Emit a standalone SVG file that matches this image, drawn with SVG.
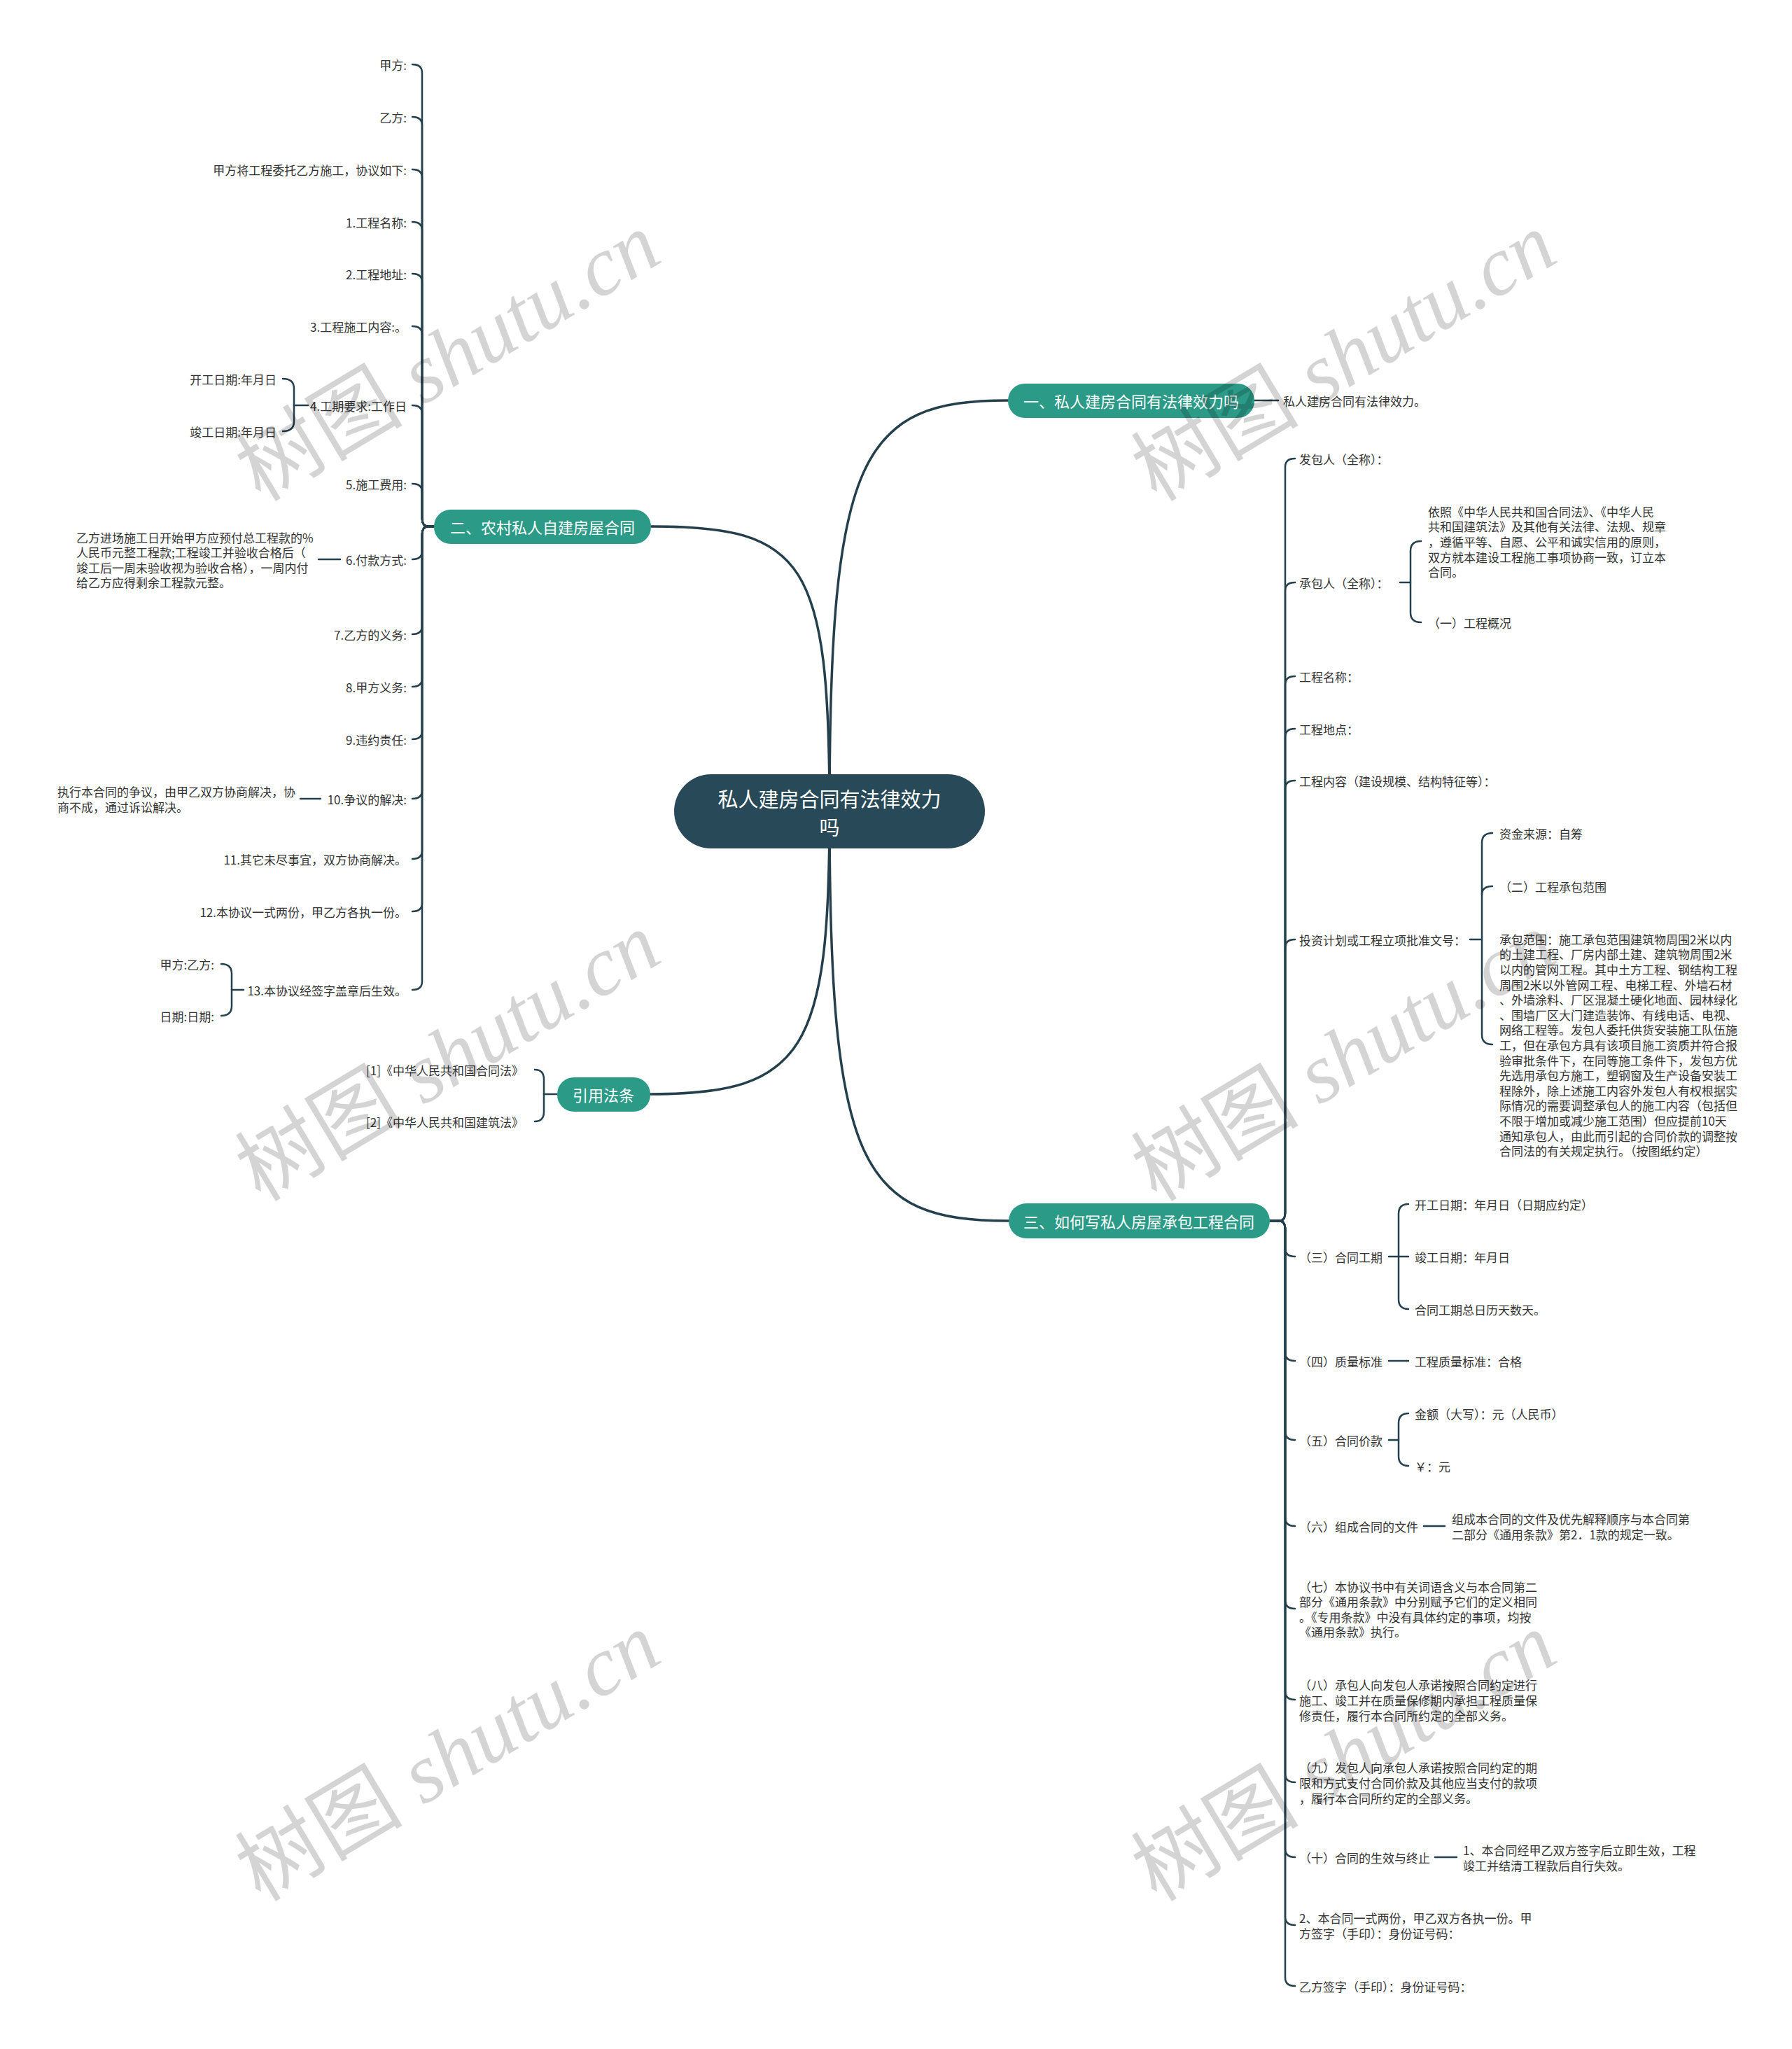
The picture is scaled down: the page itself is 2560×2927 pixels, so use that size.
<svg xmlns="http://www.w3.org/2000/svg" width="2560" height="2927" viewBox="0 0 2560 2927">
<style>
.ln{fill:none;stroke:#25404d;stroke-width:2.5;stroke-linecap:round;stroke-linejoin:round}
.rl{stroke-width:3.5}
.t{font-family:"Noto Sans CJK SC","Microsoft YaHei",sans-serif;font-size:17px;fill:#333;dominant-baseline:central}
.e{text-anchor:end}
.b{font-size:22px;fill:#fff;text-anchor:middle}
.r{font-size:29px;fill:#fff;text-anchor:middle}
.bx{fill:#2b9a87}
.rt{fill:#284957}
.wm{font-family:"Liberation Serif","Noto Sans CJK SC",serif;font-size:120px;fill:#000;fill-opacity:0.17;text-anchor:middle;dominant-baseline:central}
</style>
<rect width="2560" height="2927" fill="#fff"/>
<g id="connectors">
<path class="ln rl" d="M1185 1159C1185 650 1230 572 1440 572"/>
<path class="ln rl" d="M1185 1159C1185 1668 1230 1744 1441 1744"/>
<path class="ln rl" d="M1185 1159C1185 800 1150 752 930 752"/>
<path class="ln rl" d="M1185 1159C1185 1500 1150 1563 929 1563"/>
<path class="ln" d="M1792 572H1826"/>
<path class="ln" d="M620 752H612Q603 752 603 740V104Q603 92 589 92"/>
<path class="ln" d="M620 752H612Q603 752 603 740V179Q603 167 589 167"/>
<path class="ln" d="M620 752H612Q603 752 603 740V254Q603 242 589 242"/>
<path class="ln" d="M620 752H612Q603 752 603 740V329Q603 317 589 317"/>
<path class="ln" d="M620 752H612Q603 752 603 740V403Q603 391 589 391"/>
<path class="ln" d="M620 752H612Q603 752 603 740V478Q603 466 589 466"/>
<path class="ln" d="M620 752H612Q603 752 603 740V591Q603 579 589 579"/>
<path class="ln" d="M620 752H612Q603 752 603 740V703Q603 691 589 691"/>
<path class="ln" d="M620 752H612Q603 752 603 764V787Q603 799 589 799"/>
<path class="ln" d="M620 752H612Q603 752 603 764V894Q603 906 589 906"/>
<path class="ln" d="M620 752H612Q603 752 603 764V969Q603 981 589 981"/>
<path class="ln" d="M620 752H612Q603 752 603 764V1044Q603 1056 589 1056"/>
<path class="ln" d="M620 752H612Q603 752 603 764V1129Q603 1141 589 1141"/>
<path class="ln" d="M620 752H612Q603 752 603 764V1215Q603 1227 589 1227"/>
<path class="ln" d="M620 752H612Q603 752 603 764V1290Q603 1302 589 1302"/>
<path class="ln" d="M620 752H612Q603 752 603 764V1402Q603 1414 589 1414"/>
<path class="ln" d="M440 579H420"/>
<path class="ln" d="M404 541Q420 541 420 555V602Q420 616 404 616"/>
<path class="ln" d="M455 799H486"/>
<path class="ln" d="M429 1141H458"/>
<path class="ln" d="M348 1414H331"/>
<path class="ln" d="M316 1377Q331 1377 331 1391V1437Q331 1451 316 1451"/>
<path class="ln" d="M796 1563H777"/>
<path class="ln" d="M764 1528Q777 1528 777 1542V1588Q777 1602 764 1602"/>
<path class="ln" d="M1814 1744H1827Q1836 1744 1836 1732V667Q1836 655 1850 655"/>
<path class="ln" d="M1814 1744H1827Q1836 1744 1836 1732V844Q1836 832 1850 832"/>
<path class="ln" d="M1814 1744H1827Q1836 1744 1836 1732V978Q1836 966 1850 966"/>
<path class="ln" d="M1814 1744H1827Q1836 1744 1836 1732V1053Q1836 1041 1850 1041"/>
<path class="ln" d="M1814 1744H1827Q1836 1744 1836 1732V1127Q1836 1115 1850 1115"/>
<path class="ln" d="M1814 1744H1827Q1836 1744 1836 1732V1354Q1836 1342 1850 1342"/>
<path class="ln" d="M1814 1744H1827Q1836 1744 1836 1756V1783Q1836 1795 1850 1795"/>
<path class="ln" d="M1814 1744H1827Q1836 1744 1836 1756V1932Q1836 1944 1850 1944"/>
<path class="ln" d="M1814 1744H1827Q1836 1744 1836 1756V2045Q1836 2057 1850 2057"/>
<path class="ln" d="M1814 1744H1827Q1836 1744 1836 1756V2168Q1836 2180 1850 2180"/>
<path class="ln" d="M1814 1744H1827Q1836 1744 1836 1756V2286Q1836 2298 1850 2298"/>
<path class="ln" d="M1814 1744H1827Q1836 1744 1836 1756V2416Q1836 2428 1850 2428"/>
<path class="ln" d="M1814 1744H1827Q1836 1744 1836 1756V2534Q1836 2546 1850 2546"/>
<path class="ln" d="M1814 1744H1827Q1836 1744 1836 1756V2641Q1836 2653 1850 2653"/>
<path class="ln" d="M1814 1744H1827Q1836 1744 1836 1756V2738Q1836 2750 1850 2750"/>
<path class="ln" d="M1814 1744H1827Q1836 1744 1836 1756V2825Q1836 2837 1850 2837"/>
<path class="ln" d="M2000 832H2015"/>
<path class="ln" d="M2030 773Q2015 773 2015 787V875Q2015 889 2030 889"/>
<path class="ln" d="M2100 1342H2117"/>
<path class="ln" d="M2132 1190Q2117 1190 2117 1204V1478Q2117 1492 2132 1492"/>
<path class="ln" d="M2117 1278Q2117 1266 2132 1266"/>
<path class="ln" d="M1984 1795H2012"/>
<path class="ln" d="M2012 1720Q1998 1720 1998 1734V1856Q1998 1870 2012 1870"/>
<path class="ln" d="M1984 1944H2012"/>
<path class="ln" d="M1984 2057H1998"/>
<path class="ln" d="M2012 2019Q1998 2019 1998 2033V2080Q1998 2094 2012 2094"/>
<path class="ln" d="M2034 2180H2064"/>
<path class="ln" d="M2050 2653H2081"/>
</g>
<g id="root"><rect class="rt" x="963" y="1106" width="444" height="106" rx="53"/><text class="t r"><tspan x="1185" y="1140">私人建房合同有法律效力</tspan><tspan x="1185" y="1180">吗</tspan></text></g>
<g id="b1"><rect class="bx" x="1440" y="548" width="352" height="49" rx="24"/><text class="t b" x="1616" y="572">一、私人建房合同有法律效力吗</text></g>
<g id="b2"><rect class="bx" x="620" y="728" width="310" height="49" rx="24"/><text class="t b" x="775" y="752">二、农村私人自建房屋合同</text></g>
<g id="b4"><rect class="bx" x="796" y="1539" width="133" height="49" rx="24"/><text class="t b" x="862" y="1563">引用法条</text></g>
<g id="b3"><rect class="bx" x="1441" y="1719" width="373" height="50" rx="25"/><text class="t b" x="1627" y="1744">三、如何写私人房屋承包工程合同</text></g>
<g id="n1-1"><text class="t" x="1833" y="572">私人建房合同有法律效力。</text></g>
<g id="left-leaves">
<g id="l1"><text class="t e" x="581" y="92">甲方:</text></g>
<g id="l2"><text class="t e" x="581" y="167">乙方:</text></g>
<g id="l3"><text class="t e" x="581" y="242">甲方将工程委托乙方施工，协议如下:</text></g>
<g id="l4"><text class="t e" x="581" y="317">1.工程名称:</text></g>
<g id="l5"><text class="t e" x="581" y="391">2.工程地址:</text></g>
<g id="l6"><text class="t e" x="581" y="466">3.工程施工内容:。</text></g>
<g id="l7"><text class="t e" x="581" y="579">4.工期要求:工作日</text></g>
<g id="l7a"><text class="t e" x="395" y="541">开工日期:年月日</text></g>
<g id="l7b"><text class="t e" x="395" y="616">竣工日期:年月日</text></g>
<g id="l8"><text class="t e" x="581" y="691">5.施工费用:</text></g>
<g id="l9"><text class="t e" x="581" y="799">6.付款方式:</text></g>
<g id="l9a"><text class="t"><tspan x="109" y="766.6">乙方进场施工日开始甲方应预付总工程款的%</tspan><tspan x="109" y="788.2">人民币元整工程款;工程竣工并验收合格后（</tspan><tspan x="109" y="809.8">竣工后一周未验收视为验收合格），一周内付</tspan><tspan x="109" y="831.4">给乙方应得剩余工程款元整。</tspan></text></g>
<g id="l10"><text class="t e" x="581" y="906">7.乙方的义务:</text></g>
<g id="l11"><text class="t e" x="581" y="981">8.甲方义务:</text></g>
<g id="l12"><text class="t e" x="581" y="1056">9.违约责任:</text></g>
<g id="l13"><text class="t e" x="581" y="1141">10.争议的解决:</text></g>
<g id="l13a"><text class="t"><tspan x="82" y="1130.2">执行本合同的争议，由甲乙双方协商解决，协</tspan><tspan x="82" y="1151.8">商不成，通过诉讼解决。</tspan></text></g>
<g id="l14"><text class="t e" x="581" y="1227">11.其它未尽事宜，双方协商解决。</text></g>
<g id="l15"><text class="t e" x="581" y="1302">12.本协议一式两份，甲乙方各执一份。</text></g>
<g id="l16"><text class="t e" x="581" y="1414">13.本协议经签字盖章后生效。</text></g>
<g id="l16a"><text class="t e" x="306" y="1377">甲方:乙方:</text></g>
<g id="l16b"><text class="t e" x="306" y="1451">日期:日期:</text></g>
<g id="c1"><text class="t e" x="748" y="1528">[1]《中华人民共和国合同法》</text></g>
<g id="c2"><text class="t e" x="748" y="1602">[2]《中华人民共和国建筑法》</text></g>
</g>
<g id="right-leaves">
<g id="r1"><text class="t" x="1856" y="655">发包人（全称）：</text></g>
<g id="r2"><text class="t" x="1856" y="832">承包人（全称）：</text></g>
<g id="r2a"><text class="t"><tspan x="2040" y="729.8">依照《中华人民共和国合同法》、《中华人民</tspan><tspan x="2040" y="751.4">共和国建筑法》及其他有关法律、法规、规章</tspan><tspan x="2040" y="773">，遵循平等、自愿、公平和诚实信用的原则，</tspan><tspan x="2040" y="794.6">双方就本建设工程施工事项协商一致，订立本</tspan><tspan x="2040" y="816.2">合同。</tspan></text></g>
<g id="r2b"><text class="t" x="2040" y="889">（一）工程概况</text></g>
<g id="r3"><text class="t" x="1856" y="966">工程名称：</text></g>
<g id="r4"><text class="t" x="1856" y="1041">工程地点：</text></g>
<g id="r5"><text class="t" x="1856" y="1115">工程内容（建设规模、结构特征等）：</text></g>
<g id="r6"><text class="t" x="1856" y="1342">投资计划或工程立项批准文号：</text></g>
<g id="r6a"><text class="t" x="2142" y="1190">资金来源：自筹</text></g>
<g id="r6b"><text class="t" x="2142" y="1266">（二）工程承包范围</text></g>
<g id="r6c"><text class="t"><tspan x="2142" y="1340.8">承包范围：施工承包范围建筑物周围2米以内</tspan><tspan x="2142" y="1362.4">的土建工程、厂房内部土建、建筑物周围2米</tspan><tspan x="2142" y="1384">以内的管网工程。其中土方工程、钢结构工程</tspan><tspan x="2142" y="1405.6">周围2米以外管网工程、电梯工程、外墙石材</tspan><tspan x="2142" y="1427.2">、外墙涂料、厂区混凝土硬化地面、园林绿化</tspan><tspan x="2142" y="1448.8">、围墙厂区大门建造装饰、有线电话、电视、</tspan><tspan x="2142" y="1470.4">网络工程等。发包人委托供货安装施工队伍施</tspan><tspan x="2142" y="1492">工，但在承包方具有该项目施工资质并符合报</tspan><tspan x="2142" y="1513.6">验审批条件下，在同等施工条件下，发包方优</tspan><tspan x="2142" y="1535.2">先选用承包方施工，塑钢窗及生产设备安装工</tspan><tspan x="2142" y="1556.8">程除外，除上述施工内容外发包人有权根据实</tspan><tspan x="2142" y="1578.4">际情况的需要调整承包人的施工内容（包括但</tspan><tspan x="2142" y="1600">不限于增加或减少施工范围）但应提前10天</tspan><tspan x="2142" y="1621.6">通知承包人，由此而引起的合同价款的调整按</tspan><tspan x="2142" y="1643.2">合同法的有关规定执行。（按图纸约定）</tspan></text></g>
<g id="r7"><text class="t" x="1856" y="1795">（三）合同工期</text></g>
<g id="r7a"><text class="t" x="2021" y="1720">开工日期：年月日（日期应约定）</text></g>
<g id="r7b"><text class="t" x="2021" y="1795">竣工日期：年月日</text></g>
<g id="r7c"><text class="t" x="2021" y="1870">合同工期总日历天数天。</text></g>
<g id="r8"><text class="t" x="1856" y="1944">（四）质量标准</text></g>
<g id="r8a"><text class="t" x="2021" y="1944">工程质量标准：合格</text></g>
<g id="r9"><text class="t" x="1856" y="2057">（五）合同价款</text></g>
<g id="r9a"><text class="t" x="2021" y="2019">金额（大写）：元（人民币）</text></g>
<g id="r9b"><text class="t" x="2021" y="2094">￥：元</text></g>
<g id="r10"><text class="t" x="1856" y="2180">（六）组成合同的文件</text></g>
<g id="r10a"><text class="t"><tspan x="2074" y="2169.2">组成本合同的文件及优先解释顺序与本合同第</tspan><tspan x="2074" y="2190.8">二部分《通用条款》第2．1款的规定一致。</tspan></text></g>
<g id="r11"><text class="t"><tspan x="1856" y="2265.6">（七）本协议书中有关词语含义与本合同第二</tspan><tspan x="1856" y="2287.2">部分《通用条款》中分别赋予它们的定义相同</tspan><tspan x="1856" y="2308.8">。《专用条款》中没有具体约定的事项，均按</tspan><tspan x="1856" y="2330.4">《通用条款》执行。</tspan></text></g>
<g id="r12"><text class="t"><tspan x="1856" y="2406.4">（八）承包人向发包人承诺按照合同约定进行</tspan><tspan x="1856" y="2428">施工、竣工并在质量保修期内承担工程质量保</tspan><tspan x="1856" y="2449.6">修责任，履行本合同所约定的全部义务。</tspan></text></g>
<g id="r13"><text class="t"><tspan x="1856" y="2524.4">（九）发包人向承包人承诺按照合同约定的期</tspan><tspan x="1856" y="2546">限和方式支付合同价款及其他应当支付的款项</tspan><tspan x="1856" y="2567.6">，履行本合同所约定的全部义务。</tspan></text></g>
<g id="r14"><text class="t" x="1856" y="2653">（十）合同的生效与终止</text></g>
<g id="r14a"><text class="t"><tspan x="2090" y="2642.2">1、本合同经甲乙双方签字后立即生效，工程</tspan><tspan x="2090" y="2663.8">竣工并结清工程款后自行失效。</tspan></text></g>
<g id="r15"><text class="t"><tspan x="1856" y="2739.2">2、本合同一式两份，甲乙双方各执一份。甲</tspan><tspan x="1856" y="2760.8">方签字（手印）：身份证号码：</tspan></text></g>
<g id="r16"><text class="t" x="1856" y="2837">乙方签字（手印）：身份证号码：</text></g>
</g>
<g id="watermarks">
<text class="wm" transform="translate(640 510) rotate(-31)">树图 <tspan font-style="italic">shutu.cn</tspan></text>
<text class="wm" transform="translate(640 1510) rotate(-31)">树图 <tspan font-style="italic">shutu.cn</tspan></text>
<text class="wm" transform="translate(640 2510) rotate(-31)">树图 <tspan font-style="italic">shutu.cn</tspan></text>
<text class="wm" transform="translate(1920 510) rotate(-31)">树图 <tspan font-style="italic">shutu.cn</tspan></text>
<text class="wm" transform="translate(1920 1510) rotate(-31)">树图 <tspan font-style="italic">shutu.cn</tspan></text>
<text class="wm" transform="translate(1920 2510) rotate(-31)">树图 <tspan font-style="italic">shutu.cn</tspan></text>
</g>
</svg>
